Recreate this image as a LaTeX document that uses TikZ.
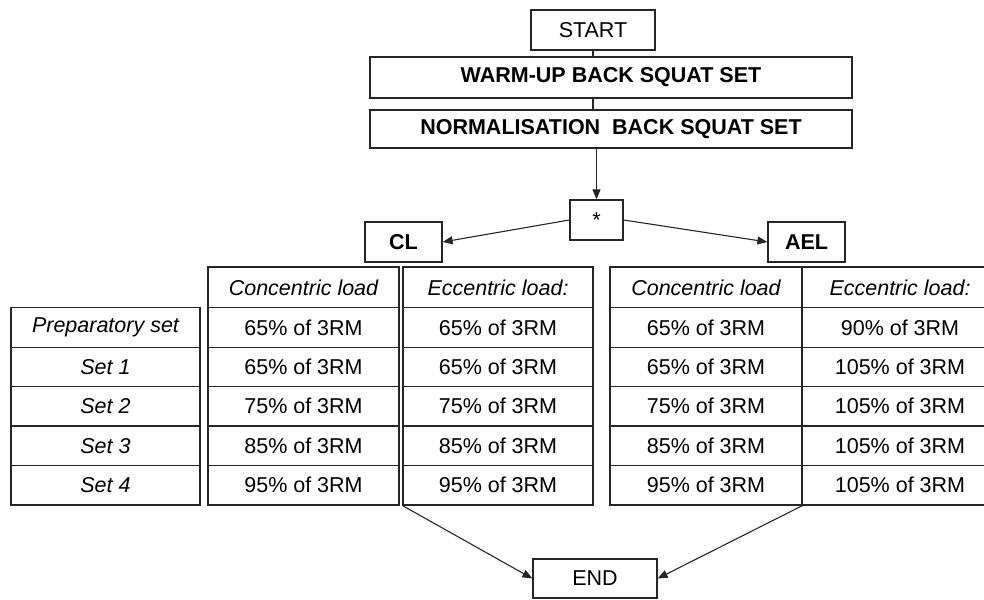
\documentclass[tikz,border=0pt]{standalone}
\usepackage{fontspec}
\setmainfont{Liberation Sans}
\usetikzlibrary{arrows.meta}

\begin{document}
\begin{tikzpicture}[x=1pt, y=-1pt,
    every node/.style={font=\fontsize{21.5}{25}\selectfont},
    box/.style={draw=black!85, line width=1.3pt, fill=white, inner sep=0pt},
    bold/.style={font=\fontsize{21.5}{25}\selectfont\bfseries},
    head/.style={font=\fontsize{21.5}{25}\selectfont\itshape},
    link/.style={black!85, line width=1.1pt},
    flow/.style={black!85, line width=1.1pt, -{Triangle[length=10pt, width=8pt]}}]

    \clip (0,0) rectangle (984,599);

    % --- Cabecera del protocolo ---
    \node[box, minimum width=124pt, minimum height=40pt] (start) at (593,30) {START};
    \node[box, bold, minimum width=482pt, minimum height=41pt] (warm) at (611,77.5) {WARM-UP BACK SQUAT SET};
    \node[box, bold, minimum width=482pt, minimum height=38pt] (norm) at (611,129) {NORMALISATION\ \ BACK SQUAT SET};
    \node[box, minimum width=53pt, minimum height=40pt] (star) at (596.5,220) {*};

    \draw[link] (start.south) -- (start.south |- warm.north);
    \draw[link] (start.south |- warm.south) -- (start.south |- norm.north);
    \draw[flow] (star.north |- norm.south) -- (star.north);

    % --- Grupos ---
    \node[box, bold, minimum width=77pt, minimum height=40pt] (cl) at (403.5,242) {CL};
    \node[box, bold, minimum width=77pt, minimum height=40pt] (ael) at (806.5,242) {AEL};
    \draw[flow] (star.west) -- (cl.east);
    \draw[flow] (star.east) -- (ael.west);

    % --- Cabeceras de la tabla ---
    \node[box, head, minimum width=191pt, minimum height=41pt] (clch) at (303.5,287.5) {Concentric load};
    \node[box, head, minimum width=190pt, minimum height=41pt] (cleh) at (498,287.5) {Eccentric load:};
    \node[box, head, minimum width=192pt, minimum height=41pt] (aelch) at (706,287.5) {Concentric load};
    \node[box, head, minimum width=196pt, minimum height=41pt] (aeleh) at (900,287.5) {Eccentric load:};

    % --- Series ---
    \foreach \i/\lab/\a/\b/\c/\d in {0/Preparatory set/65/65/65/90,
                                     1/Set 1/65/65/65/105,
                                     2/Set 2/75/75/75/105,
                                     3/Set 3/85/85/85/105,
                                     4/Set 4/95/95/95/105} {
      \node[box, head, minimum width=189pt, minimum height=39.5pt] (set\i) at (105.5,327.5+39.4*\i) {\lab};
      \node[box, minimum width=191pt, minimum height=39.5pt] (clc\i) at (303.5,327.5+39.4*\i) {\a\% of 3RM};
      \node[box, minimum width=190pt, minimum height=39.5pt] (cle\i) at (498,327.5+39.4*\i) {\b\% of 3RM};
      \node[box, minimum width=192pt, minimum height=39.5pt] (aelc\i) at (706,327.5+39.4*\i) {\c\% of 3RM};
      \node[box, minimum width=196pt, minimum height=39.5pt] (aele\i) at (900,327.5+39.4*\i) {\d\% of 3RM};
    }

    % --- Final ---
    \node[box, minimum width=124pt, minimum height=39pt] (end) at (595,578.5) {END};
    \draw[flow] (cle4.south west) -- (end.west);
    \draw[flow] (aelc4.south east) -- (end.east);

\end{tikzpicture}
\end{document}
